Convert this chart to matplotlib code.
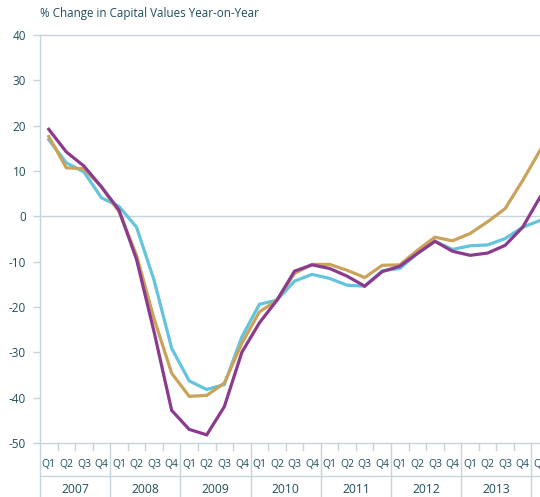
import matplotlib
matplotlib.use("Agg")
import matplotlib.pyplot as plt

# Données : variation annuelle des valeurs en capital (%), T1 2007 -> T1 2014
quarters = ["Q1", "Q2", "Q3", "Q4"] * 7 + ["Q1"]
years = ["2007", "2008", "2009", "2010", "2011", "2012", "2013", "'14"]

purple = [19.2, 14.2, 11.1, 6.5, 1.4, -9.5, -25.5, -42.8, -47.0, -48.2, -42.0, -30.0,
          -23.5, -18.5, -12.1, -10.7, -11.5, -13.2, -15.4, -12.2, -11.0, -8.2, -5.5,
          -7.7, -8.6, -8.1, -6.4, -2.4, 4.3]
gold = [17.6, 10.7, 10.5, 6.5, 1.0, -8.6, -22.6, -34.6, -39.7, -39.5, -36.8, -28.0,
        -21.1, -18.5, -12.6, -10.6, -10.6, -11.9, -13.5, -10.8, -10.7, -7.5, -4.6,
        -5.4, -3.8, -1.2, 1.7, 7.9, 14.6]
cyan = [16.9, 11.8, 9.8, 4.1, 2.2, -2.4, -14.1, -29.1, -36.3, -38.2, -37.1, -26.6,
        -19.4, -18.5, -14.3, -12.8, -13.7, -15.2, -15.4, -12.0, -11.5, -8.2, -5.5,
        -7.3, -6.5, -6.3, -4.9, -2.4, -0.9]

c_purple = '#8b3a8e'
c_gold = '#c9a35a'
c_cyan = '#63c4dd'
c_axe = '#c6d5dd'
c_txt = '#1f4f5c'

plt.rcParams['font.family'] = ['Open Sans', 'DejaVu Sans']
plt.rcParams['axes.unicode_minus'] = False

fig = plt.figure(figsize=(5.4, 4.97), dpi=100)
W, H = 540, 497
left, right, top, bottom = 40, 549, 35, 443
ax = fig.add_axes([left / W, 1 - bottom / H, (right - left) / W, (bottom - top) / H])

x = list(range(len(quarters)))
ax.plot(x, cyan, color=c_cyan, linewidth=2.3, solid_joinstyle='miter')
ax.plot(x, gold, color=c_gold, linewidth=2.3, solid_joinstyle='miter')
ax.plot(x, purple, color=c_purple, linewidth=2.3, solid_joinstyle='miter')

ax.set_xlim(-0.5, len(quarters) - 0.5)
ax.set_ylim(-50, 40)

for s in ['top', 'right', 'bottom']:
    ax.spines[s].set_visible(False)
ax.spines['left'].set_color(c_axe)
ax.spines['left'].set_linewidth(1)

for yv in [40, 0, -50]:
    ax.axhline(yv, color=c_axe, linewidth=1, zorder=0, clip_on=False)

ax.set_yticks(range(-50, 41, 10))
ax.tick_params(axis='y', length=5, width=1, color=c_axe, labelcolor=c_txt, labelsize=8.5, pad=5)
ax.set_xticks([])

# Axe des abscisses : trimestres et années
tr = ax.get_xaxis_transform()
for i, q in enumerate(quarters):
    ax.text(i, -0.052, q, transform=tr, ha='center', va='center', fontsize=7.5, color=c_txt, clip_on=False)
    if i < len(quarters) - 1:
        y0 = -0.132 if (i + 1) % 4 == 0 else -0.017
        ax.plot([i + 0.5, i + 0.5], [0, y0], transform=tr, color=c_axe, linewidth=1, clip_on=False)
ax.plot([-0.5, -0.5], [0, -0.132], transform=tr, color=c_axe, linewidth=1, clip_on=False)
ax.plot([-0.5, len(quarters) - 0.5], [-0.081, -0.081], transform=tr, color=c_axe, linewidth=1, clip_on=False)
for k, yr in enumerate(years):
    ax.text(4 * k + 1.5, -0.115, yr, transform=tr, ha='center', va='center', fontsize=8.7, color=c_txt, clip_on=False)

fig.text(left / W, 1 - 13 / H, "% Change in Capital Values Year-on-Year", ha='left', va='center',
         fontsize=8.4, color=c_txt)

fig.savefig('out.png', dpi=100)
